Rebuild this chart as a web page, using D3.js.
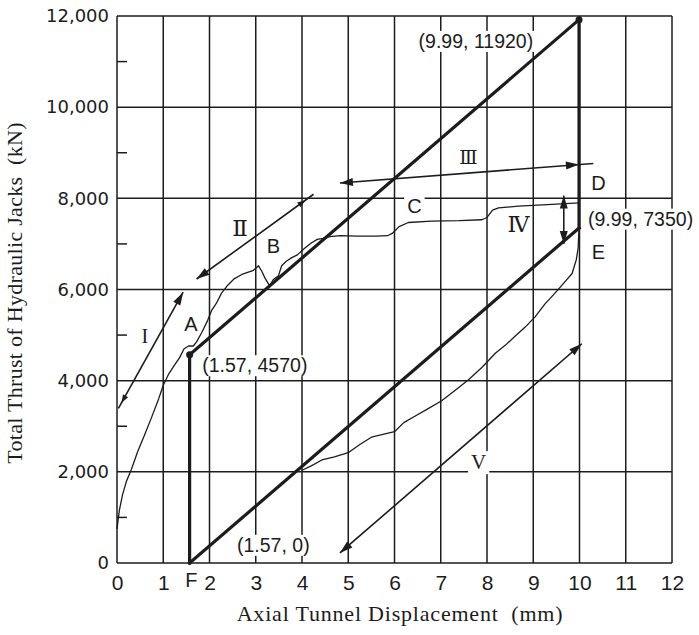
<!DOCTYPE html>
<html><head><meta charset="utf-8">
<script src="https://cdn.jsdelivr.net/npm/d3@7"></script>
<style>body{margin:0;background:#fff}</style>
</head><body><svg id="c" width="699" height="635"></svg>
<script>
// ---------------- data ----------------
const xTickValues = d3.range(0, 13);
const yTickValues = [0, 2000, 4000, 6000, 8000, 10000, 12000];
const yMinorTicks = [1000, 3000, 5000, 7000, 9000, 11000];

// measured loading curve (thin)
const loadingCurve = [
  [0, 750], [0.05, 1150], [0.12, 1500], [0.2, 1780], [0.31, 2050], [0.45, 2450],
  [0.6, 2820], [0.75, 3200], [0.9, 3600], [1.0, 3900], [1.12, 4150], [1.25, 4350],
  [1.35, 4500], [1.45, 4700], [1.55, 4760], [1.65, 4760], [1.72, 4850], [1.83, 5050],
  [1.95, 5300], [2.05, 5550], [2.15, 5700], [2.26, 5920], [2.4, 6100], [2.54, 6240],
  [2.7, 6330], [2.84, 6380], [2.95, 6420], [3.06, 6520], [3.13, 6400], [3.2, 6250],
  [3.3, 6080], [3.38, 6220], [3.49, 6300], [3.56, 6520], [3.66, 6620], [3.78, 6700],
  [3.9, 6760], [4.05, 6900], [4.2, 7020], [4.33, 7100], [4.46, 7120], [4.6, 7160],
  [4.83, 7180], [5.2, 7170], [5.6, 7170], [5.85, 7180], [5.95, 7230], [6.1, 7380],
  [6.3, 7470], [6.8, 7500], [7.4, 7510], [7.89, 7530], [8.0, 7580], [8.12, 7740],
  [8.25, 7790], [8.68, 7830], [9.3, 7860], [9.99, 7900]
];
// measured reloading curve (thin)
const reloadCurve = [
  [3.99, 2030], [4.2, 2130], [4.43, 2260], [4.7, 2330], [5.0, 2420], [5.25, 2600],
  [5.5, 2760], [5.75, 2820], [6.0, 2880], [6.2, 3080], [6.44, 3220], [6.7, 3370],
  [7.02, 3560], [7.3, 3780], [7.6, 4020], [7.9, 4300], [8.18, 4600], [8.4, 4780],
  [8.6, 4970], [8.82, 5170], [9.04, 5400], [9.25, 5680], [9.47, 5920], [9.65, 6130],
  [9.84, 6350], [9.93, 6650], [9.97, 6900], [9.99, 7350]
];
// idealised (bold) paths
const upperLine = [[1.57, 4570], [9.99, 11920]];
const lowerLine = [[1.57, 0], [9.99, 7350]];
const unloadDrop = [[9.99, 11920], [9.99, 7350]];
const releaseDrop = [[1.57, 4570], [1.57, 0]];
const keyPoints = [[1.57, 4570], [9.99, 11920]];

// phase arrows
const arrowSegments = [
  {name: "I",   x1: 0.03, y1: 3390, x2: 1.43,  y2: 5940},
  {name: "II",  x1: 1.72, y1: 6230, x2: 4.25,  y2: 8090},
  {name: "III", x1: 4.82, y1: 8335, x2: 10.3,  y2: 8765},
  {name: "IV",  x1: 9.66, y1: 8060, x2: 9.66,  y2: 7000},
  {name: "V",   x1: 4.82, y1: 220,  x2: 10.05, y2: 4810}
];
// heads: segment, position along segment, direction (+1 toward end, -1 toward start), small?
const arrowHeads = [
  ["I", 1, 1, false], ["I", 0.05, -1, true],
  ["II", 0, -1, false], ["II", 0.93, 1, true],
  ["III", 0, -1, false], ["III", 0.943, 1, false],
  ["IV", 0, -1, false], ["IV", 1, 1, false],
  ["V", 0, -1, false], ["V", 1, 1, false]
];

const letterLabels = [["A", 1.6, 5250], ["B", 3.38, 6960], ["C", 6.43, 7840],
  ["D", 10.41, 8330], ["E", 10.41, 6820], ["F", 1.61, -370]];
const coordLabels = [["(9.99, 11920)", 7.76, 11450], ["(9.99, 7350)", 11.32, 7550],
  ["(1.57, 4570)", 2.98, 4335], ["(1.57, 0)", 3.38, 395]];
const phaseLabels = [["I", 0.6, 4990, 20], ["Ⅱ", 2.66, 7360, 23], ["Ⅲ", 7.6, 8900, 19],
  ["Ⅳ", 8.68, 7440, 22], ["V", 7.82, 2220, 21]];

const xTitle = "Axial Tunnel Displacement  (mm)";
const yTitle = "Total Thrust of Hydraulic Jacks  (kN)";

// ---------------- drawing ----------------
const svg = d3.select("#c");
const ink = "#1c1c1c";
svg.append("rect").attr("width", 699).attr("height", 635).attr("fill", "#fff");

const x = d3.scaleLinear().domain([0, 12]).range([117, 672]);
const y = d3.scaleLinear().domain([0, 12000]).range([563, 16]);
const line = d3.line().x(d => x(d[0])).y(d => y(d[1]));

// grid
const grid = svg.append("g").attr("stroke", ink).attr("stroke-width", 1.5);
grid.selectAll(".gx").data(xTickValues).join("line")
  .attr("x1", d => x(d)).attr("x2", d => x(d))
  .attr("y1", y(0)).attr("y2", y(12000));
grid.selectAll(".gy").data(yTickValues).join("line")
  .attr("x1", x(0)).attr("x2", x(12))
  .attr("y1", d => y(d)).attr("y2", d => y(d));
grid.selectAll(".my").data(yMinorTicks).join("line")
  .attr("x1", x(0)).attr("x2", x(0) + 10)
  .attr("y1", d => y(d)).attr("y2", d => y(d));

// axes labels
const yAxis = d3.axisLeft(y).tickValues(yTickValues).tickFormat(d3.format(",")).tickSize(0).tickPadding(8);
const gy = svg.append("g").attr("transform", `translate(${x(0)},0)`).call(yAxis);
gy.select(".domain").remove();
gy.selectAll("text").attr("font-family", "DejaVu Sans").attr("font-size", 18).attr("fill", ink);

const xAxis = d3.axisBottom(x).tickValues(xTickValues).tickFormat(d3.format("d")).tickSize(0).tickPadding(12);
const gx = svg.append("g").attr("transform", `translate(0,${y(0)})`).call(xAxis);
gx.select(".domain").remove();
gx.selectAll("text").attr("font-family", "Liberation Sans").attr("font-size", 21).attr("fill", ink);

// thin measured curves
svg.append("path").datum(loadingCurve).attr("d", line)
  .attr("fill", "none").attr("stroke", ink).attr("stroke-width", 1.3).attr("stroke-linejoin", "round");
svg.append("path").datum(reloadCurve).attr("d", line)
  .attr("fill", "none").attr("stroke", ink).attr("stroke-width", 1.3).attr("stroke-linejoin", "round");

// bold idealised lines
[upperLine, lowerLine, unloadDrop, releaseDrop].forEach(seg => {
  svg.append("path").datum(seg).attr("d", line)
    .attr("fill", "none").attr("stroke", ink).attr("stroke-width", 3.2).attr("stroke-linecap", "square");
});
svg.selectAll(".kp").data(keyPoints).join("circle")
  .attr("cx", d => x(d[0])).attr("cy", d => y(d[1])).attr("r", 3.5).attr("fill", ink);

// arrows
const segByName = Object.fromEntries(arrowSegments.map(s => [s.name, s]));
svg.selectAll(".arr").data(arrowSegments).join("line")
  .attr("x1", d => x(d.x1)).attr("y1", d => y(d.y1))
  .attr("x2", d => x(d.x2)).attr("y2", d => y(d.y2))
  .attr("stroke", ink).attr("stroke-width", 1.6);
arrowHeads.forEach(([name, t, dir, small]) => {
  const s = segByName[name];
  const px1 = x(s.x1), py1 = y(s.y1), px2 = x(s.x2), py2 = y(s.y2);
  const tx = px1 + (px2 - px1) * t, ty = py1 + (py2 - py1) * t;
  let dx = (px2 - px1) * dir, dy = (py2 - py1) * dir;
  const len = Math.hypot(dx, dy); dx /= len; dy /= len;
  const L = small ? 8 : 13, W = small ? 3 : 4;
  const bx = tx - dx * L, by = ty - dy * L;
  svg.append("path")
    .attr("d", `M${tx},${ty}L${bx - dy * W},${by + dx * W}L${bx + dy * W},${by - dx * W}Z`)
    .attr("fill", ink);
});

// labels with optional white background
function label(g, txt, px, py, font, size, bg) {
  const t = g.append("text").attr("x", px).attr("y", py).attr("dy", "0.35em")
    .attr("text-anchor", "middle").attr("font-family", font).attr("font-size", size)
    .attr("fill", ink).text(txt);
  if (bg) {
    const b = t.node().getBBox();
    g.insert("rect", () => t.node())
      .attr("x", b.x - 3).attr("y", b.y + 1).attr("width", b.width + 6).attr("height", b.height - 1)
      .attr("fill", "#fff");
  }
  return t;
}
const lg = svg.append("g");
letterLabels.forEach(([t, a, b]) => label(lg, t, x(a), y(b), "Liberation Sans", 20, t === "C"));
coordLabels.forEach(([t, a, b]) => label(lg, t, x(a), y(b), "Liberation Sans", 19.5, true));
phaseLabels.forEach(([t, a, b, s]) => label(lg, t, x(a), y(b),
  "'Liberation Serif', 'DejaVu Serif', 'Noto Sans CJK JP', serif", s, t === "V"));

// axis titles
svg.append("text").attr("x", 400).attr("y", 621).attr("text-anchor", "middle")
  .attr("font-family", "Liberation Serif").attr("font-size", 22).attr("letter-spacing", 0.8)
  .attr("fill", ink).style("white-space", "pre").text(xTitle);
svg.append("text").attr("transform", "translate(22,293) rotate(-90)").attr("text-anchor", "middle")
  .attr("font-family", "Liberation Serif").attr("font-size", 22).attr("letter-spacing", 0.3)
  .attr("fill", ink).style("white-space", "pre").text(yTitle);
</script></body></html>
